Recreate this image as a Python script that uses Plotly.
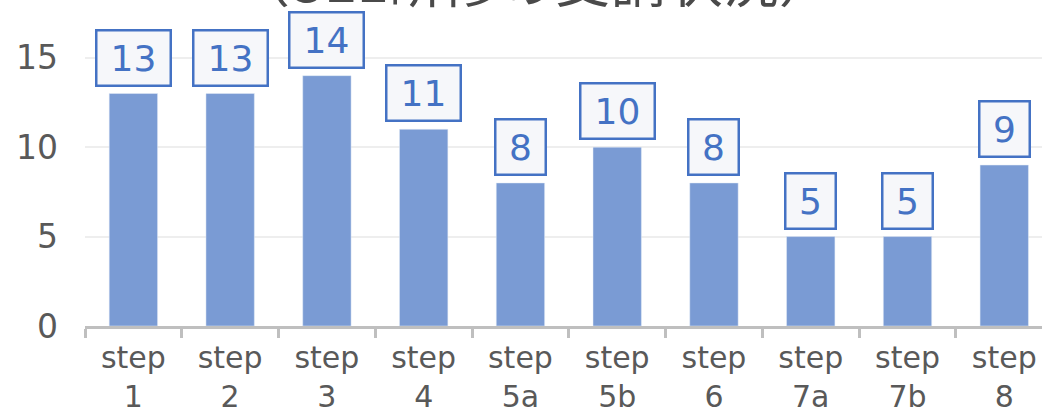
import plotly.graph_objects as go

categories = ["step<br>1", "step<br>2", "step<br>3", "step<br>4", "step<br>5a",
              "step<br>5b", "step<br>6", "step<br>7a", "step<br>7b", "step<br>8"]
values = [13, 13, 14, 11, 8, 10, 8, 5, 5, 9]
title_text = "（SEL研修の受講状況）"

fig = go.Figure()
fig.add_trace(go.Bar(x=categories, y=values, marker_color="#7a9bd4", width=0.5,
                     showlegend=False))

for c, v in zip(categories, values):
    fig.add_annotation(x=c, y=v, text=str(v), showarrow=False, yanchor="bottom",
                       yshift=7, width=24 * len(str(v)) + 12,
                       font=dict(size=36, color="#4472c4", family="DejaVu Sans"),
                       bgcolor="#f6f7fa", bordercolor="#4472c4", borderwidth=2.5, borderpad=6)

fig.add_annotation(x=0.47, xref="paper", y=1.005, yref="paper", text=title_text,
                   showarrow=False, yanchor="bottom",
                   font=dict(size=56, color="#4a4a4a", family="Noto Sans CJK JP"))

fig.update_layout(
    width=1042, height=416,
    margin=dict(l=85, r=0, t=22, b=90),
    plot_bgcolor="white", paper_bgcolor="white",
    bargap=0.5,
    font=dict(family="DejaVu Sans", color="#595959"),
)
fig.update_xaxes(range=[-0.5, 9.39], tickson="boundaries", ticks="outside", ticklen=9,
                 tickwidth=3, tickcolor="#bfbfbf", showline=True, linecolor="#bfbfbf",
                 linewidth=3, tickfont=dict(size=30, color="#595959"), showgrid=False,
                 ticklabelstandoff=3, automargin=False)
fig.update_yaxes(range=[0, 17], tickvals=[0, 5, 10, 15], showgrid=True, gridcolor="#eeeeee",
                 gridwidth=1.5, zeroline=False, tickfont=dict(size=33, color="#595959"),
                 ticklabelstandoff=26, automargin=False)

fig.write_html("out.html")
